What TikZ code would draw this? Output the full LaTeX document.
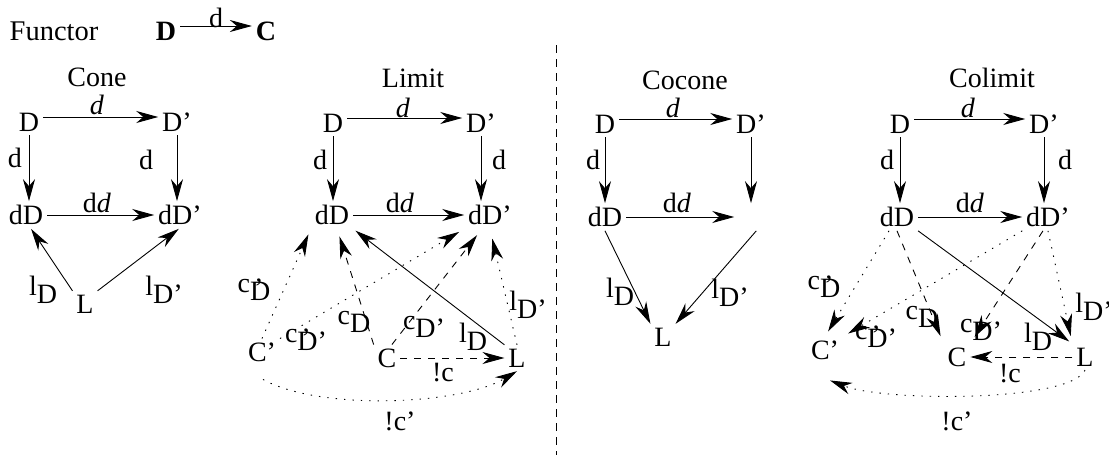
\documentclass[tikz,border=0pt]{standalone}
\usepackage{fontspec}
\setmainfont{Liberation Serif}
\usetikzlibrary{arrows.meta}
\newcommand\sbx[2]{#1\raisebox{-8pt}{#2}}
\newcommand\cpr[1]{c\raisebox{-8pt}{\rlap{\kern4pt\raisebox{3pt}{’}}#1}}
\tikzset{
  nd/.style={inner sep=4pt, outer sep=0pt, font=\fontsize{28}{32}\selectfont},
  lb/.style={inner sep=0pt, font=\fontsize{28}{32}\selectfont},
  ar/.style={-{Stealth[length=22pt,width=12pt,inset=7pt]}, line width=0.9pt},
  dt/.style={ar, dash pattern=on 1.4pt off 7pt},
  ds/.style={ar, dash pattern=on 7pt off 7pt},
  up/.style={yshift=5pt},
}
\begin{document}
\begin{tikzpicture}[x=1pt,y=-1pt]
\useasboundingbox (0,0) rectangle (1109,455);
% ---------- functor line
\node[lb,font=\fontsize{28.5}{32}\selectfont] (fun) at (54,31) {Functor};
\node[nd] (FD) at (166,31) {\textbf{D}};
\node[nd] (FC) at (266,31) {\textbf{C}};
\draw[ar] ([yshift=5pt]FD.east) -- ([yshift=5pt]FC.west) node[lb,midway,above=-2pt] {d};
% ---------- separator
\coordinate (sepT) at (556,45);
\coordinate (sepB) at (556,455);
\draw[line width=0.8pt, dash pattern=on 8pt off 6pt] (sepT) -- (sepB);

% ================= Cone
\node[lb] (t1) at (97,77) {Cone};
\node[nd] (aD) at (29,122) {D};
\node[nd] (aDp) at (177,122) {D’};
\node[nd] (adD) at (26,215) {dD};
\node[nd] (adDp) at (180,215) {dD’};
\node[nd] (aL) at (85,304) {L};
\draw[ar] ([up]aD.east) -- ([up]aDp.west);
\draw[ar] (aD) -- (aD |- adD.north);
\draw[ar] (aDp) -- (aDp |- adDp.north);
\draw[ar] (adD) -- (adDp);
\draw[ar] (aL.north west) -- (adD.-70);
\draw[ar] (aL.north east) -- (adDp.-95);
\node[lb] (a1) at (97,105) {\textit{d}};
\node[lb] (a2) at (15,158) {d};
\node[lb] (a3) at (146,160) {d};
\node[lb] (a4) at (97,203) {d\textit{d}};
\node[lb] (a5) at (43,290) {\sbx{l}{D}};
\node[lb] (a6) at (164,290) {\sbx{l}{D’}};

% ================= Limit
\node[lb] (t2) at (413,78) {Limit};
\node[nd] (bD) at (333,123) {D};
\node[nd] (bDp) at (481,123) {D’};
\node[nd] (bdD) at (332,215) {dD};
\node[nd] (bdDp) at (490,215) {dD’};
\node[nd] (bC) at (387,358) {C};
\node[nd] (bL) at (517,358) {L};
\node[nd] (bCp) at (262,352) {C’};
\draw[ar] ([up]bD.east) -- ([up]bDp.west);
\draw[ar] (bD) -- (bD |- bdD.north);
\draw[ar] (bDp) -- (bDp |- bdDp.north);
\draw[ar] (bdD) -- (bdDp);
\draw[ds] (bC) -- (bL);
\draw[ar,shorten >=3pt] (bL.north west) -- (bdD.south east);
\draw[dt,shorten >=10pt] (bL.north) -- (bdDp.south);
\draw[ds,shorten >=8pt] (bC.north west) -- (bdD.-70);
\draw[ds,shorten >=8pt] (bC.70) -- (bdDp.-120);
\draw[dt,shorten >=6pt] (bCp.north) -- (bdD.south west);
\draw[dt,shorten >=6pt] (bCp.north east) -- (bdDp.south west);
\draw[dt] ([shift={(1,14)}]bCp.south) .. controls (320,411) and (460,405) .. (bL.south);
\node[lb] (b1) at (403,108) {\textit{d}};
\node[lb] (b2) at (320,160) {d};
\node[lb] (b3) at (499,160) {d};
\node[lb] (b4) at (400,203) {d\textit{d}};
\node[lb] (b5) at (443,373) {!c};
\node[lb] (b6) at (400,421) {!c’};
\node[lb] (b7) at (473,337) {\sbx{l}{D}};
\node[lb] (b8) at (528,305) {\sbx{l}{D’}};
\node[lb] (b9) at (354,322) {\sbx{c}{D}};
\node[lb] (b10) at (424,327) {\sbx{c}{D’}};
\node[lb] (b11) at (254,290) {\cpr{D}};
\node[lb] (b12) at (306,340) {\cpr{D’}};

% ================= Cocone
\node[lb] (t3) at (685,80) {Cocone};
\node[nd] (cD) at (605,124) {D};
\node[nd] (cDp) at (751,124) {D’};
\node[nd] (cdD) at (605,217) {dD};
\node[nd] (cdDp) at (760,217) {\phantom{dD’}};
\node[nd] (cL) at (663,337) {L};
\draw[ar] ([up]cD.east) -- ([up]cDp.west);
\draw[ar] (cD) -- (cD |- cdD.north);
\draw[ar] (cDp) -- (cDp |- cdDp.north);
\draw[ar] (cdD) -- (cdDp);
\draw[ar] (cdD.south) -- (cL.north west);
\draw[ar] (cdDp.-105) -- (cL.north east);
\node[lb] (c1) at (673,108) {\textit{d}};
\node[lb] (c2) at (593,160) {d};
\node[lb] (c4) at (677,203) {d\textit{d}};
\node[lb] (c5) at (620,292) {\sbx{l}{D}};
\node[lb] (c6) at (730,293) {\sbx{l}{D’}};

% ================= Colimit
\node[lb] (t4) at (992,78) {Colimit};
\node[nd] (dD) at (900,124) {D};
\node[nd] (dDp) at (1044,124) {D’};
\node[nd] (ddD) at (897,217) {dD};
\node[nd] (ddDp) at (1048,217) {dD’};
\node[nd] (dCp) at (825,350) {C’};
\node[nd] (dC) at (957,357) {C};
\node[nd] (dL) at (1085,357) {L};
\draw[ar] ([up]dD.east) -- ([up]dDp.west);
\draw[ar] (dD) -- (dD |- ddD.north);
\draw[ar] (dDp) -- (dDp |- ddDp.north);
\draw[ar] (ddD) -- (ddDp);
\draw[ds] (dL) -- (dC);
\draw[ar,shorten >=4pt] (ddD.south east) -- (dL.north west);
\draw[dt,shorten >=8pt] (ddDp.south) -- (dL.north west);
\draw[ds,shorten >=8pt] (ddD.south) -- (dC.north west);
\draw[ds,shorten >=8pt] (ddDp.-110) -- (dC.north east);
\draw[dt,shorten >=6pt] (ddD.-120) -- (dCp.north);
\draw[dt,shorten >=6pt] (ddDp.south west) -- (dCp.north east);
\draw[dt] (dL.south) .. controls (1070,402) and (885,402) .. ([shift={(5,17)}]dCp.south);
\node[lb] (d1) at (968,108) {\textit{d}};
\node[lb] (d2) at (887,160) {d};
\node[lb] (d3) at (1065,160) {d};
\node[lb] (d4) at (970,203) {d\textit{d}};
\node[lb] (d5) at (1010,374) {!c};
\node[lb] (d6) at (957,421) {!c’};
\node[lb] (d7) at (1038,337) {\sbx{l}{D}};
\node[lb] (d8) at (1094,307) {\sbx{l}{D’}};
\node[lb] (d9) at (922,317) {\sbx{c}{D}};
\node[lb] (d10) at (981,330) {\sbx{c}{D’}};
\node[lb] (d11) at (824,287) {\cpr{D}};
\node[lb] (d12) at (876,337) {\cpr{D’}};
\end{tikzpicture}
\end{document}
